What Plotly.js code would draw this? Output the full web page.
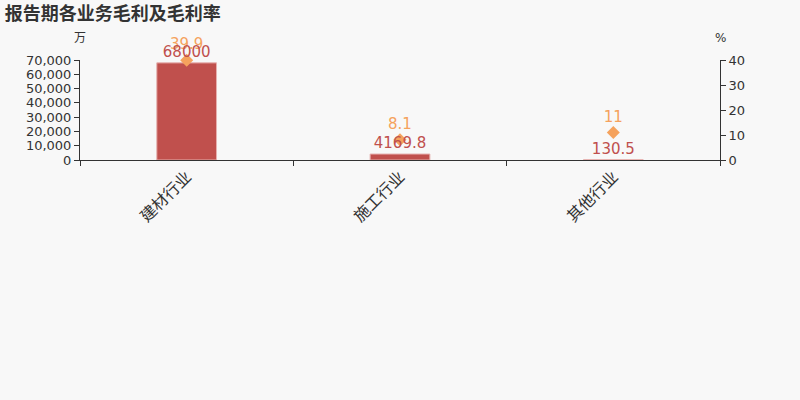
<!DOCTYPE html>
<html>
<head>
<meta charset="utf-8">
<script src="https://cdn.plot.ly/plotly-3.0.1.min.js"></script>
<style>
  body { margin: 0; background: #f8f8f8; }
  #chart { width: 800px; height: 400px; }
</style>
</head>
<body>
<div id="chart"></div>
<script>
// 报告期各业务毛利及毛利率
const categories = ['建材行业', '施工行业', '其他行业']
const grossProfit = [68000, 4169.8, 130.5]   // 万
const grossMargin = [39.9, 8.1, 11]          // %

const barColor = '#c0504d'
const dotColor = '#f5a25d'
const font = 'DejaVu Sans, Noto Sans CJK SC, sans-serif'

const bars = {
  type: 'bar',
  x: categories,
  y: grossProfit,
  width: 0.28,
  marker: { color: barColor, line: { color: '#e6b1af', width: 1 } },
  hoverinfo: 'x+y'
}

const dots = {
  type: 'scatter',
  mode: 'markers+text',
  x: categories,
  y: grossMargin,
  yaxis: 'y2',
  marker: { symbol: 'diamond', size: 10, color: dotColor },
  text: grossMargin.map(v => String(v)),
  textposition: 'top center',
  textfont: { color: dotColor, size: 15, family: font },
  cliponaxis: false
}

// bar value labels, on their own layer so they sit above the margin labels
const barLabels = {
  type: 'scatter',
  mode: 'markers+text',
  x: categories,
  y: grossProfit,
  yaxis: 'y3',
  marker: { size: 2, opacity: 0 },
  text: grossProfit.map(v => String(v)),
  textposition: 'top center',
  textfont: { color: barColor, size: 15, family: font },
  cliponaxis: false,
  hoverinfo: 'skip'
}

const layout = {
  width: 800,
  height: 400,
  paper_bgcolor: '#f8f8f8',
  plot_bgcolor: '#f8f8f8',
  showlegend: false,
  font: { family: font, color: '#333', size: 13 },
  margin: { l: 80, r: 80, t: 60, b: 240 },
  title: {
    text: '<b>报告期各业务毛利及毛利率</b>',
    x: 0.006, xanchor: 'left', y: 0.965, yanchor: 'middle',
    font: { size: 18, color: '#333', family: font }
  },
  xaxis: {
    type: 'category',
    tickangle: -45,
    ticks: 'outside',
    tickson: 'boundaries',
    ticklen: 5,
    showline: true,
    linecolor: '#333',
    tickcolor: '#333',
    showgrid: false,
    tickfont: { size: 16, color: '#333' }
  },
  yaxis: {
    range: [0, 70000],
    dtick: 10000,
    tickformat: ',d',
    ticks: 'outside',
    ticklen: 5,
    showline: true,
    linecolor: '#333',
    tickcolor: '#333',
    showgrid: false,
    zeroline: false,
    tickfont: { size: 13, color: '#333' }
  },
  yaxis2: {
    overlaying: 'y',
    side: 'right',
    range: [0, 40],
    dtick: 10,
    ticks: 'outside',
    ticklen: 5,
    showline: true,
    linecolor: '#333',
    tickcolor: '#333',
    showgrid: false,
    zeroline: false,
    tickfont: { size: 13, color: '#333' }
  },
  yaxis3: {
    overlaying: 'y',
    range: [0, 70000],
    visible: false
  },
  annotations: [
    { text: '万', xref: 'paper', yref: 'paper', x: 0, y: 1.22, xanchor: 'center', yanchor: 'middle', showarrow: false, font: { size: 12, color: '#333' } },
    { text: '%', xref: 'paper', yref: 'paper', x: 1, y: 1.22, xanchor: 'center', yanchor: 'middle', showarrow: false, font: { size: 12, color: '#333' } }
  ]
}

Plotly.newPlot('chart', [bars, dots, barLabels], layout, { displayModeBar: false })
</script>
</body>
</html>
